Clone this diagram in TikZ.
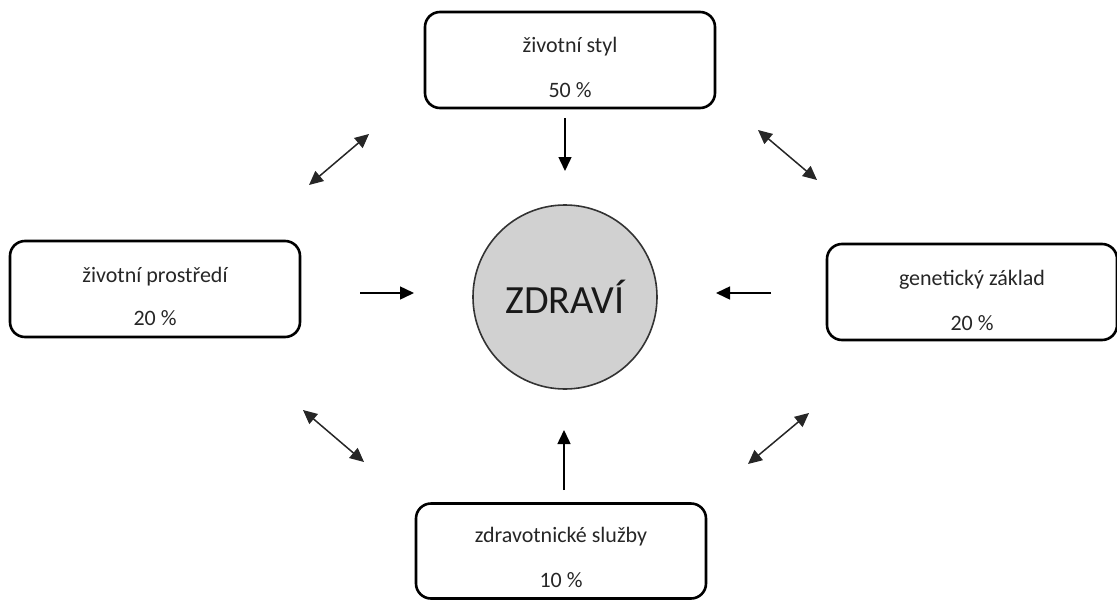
\documentclass[tikz,border=0pt]{standalone}
\usepackage{fontspec}
\setmainfont{Carlito}
\usetikzlibrary{arrows.meta}
\begin{document}
\begin{tikzpicture}[x=1pt,y=-1pt,
  box/.style={draw=black,line width=2.6pt,rounded corners=15pt,minimum width=290pt,minimum height=96pt,inner sep=0pt},
  lab/.style={anchor=base,font=\fontsize{22}{26}\selectfont,text=black!85,inner sep=0pt},
  tip/.style={Triangle[length=14pt,width=13pt]},
  arr/.style={-{Triangle[length=14pt,width=13pt]},line width=1.5pt,black},
  darr/.style={{Triangle[length=14pt,width=13pt]}-{Triangle[length=14pt,width=13pt]},line width=1.5pt,black!85}]
\useasboundingbox (0,0) rectangle (1117,600);
% boxes
\node[box] (ts) at (570,60) {};
\node[box] (tp) at (155,289) {};
\node[box] (gz) at (972,292) {};
\node[box,minimum height=95pt] (zs) at (561,551) {};
% labels
\node[lab] (ts1) at ([yshift=8pt]ts.center) {životní styl};
\node[lab] (ts2) at ([yshift=-37pt]ts.center) {50 \%};
\node[lab] (tp1) at ([yshift=7pt]tp.center) {životní prostředí};
\node[lab] (tp2) at ([yshift=-36pt]tp.center) {20 \%};
\node[lab] (gz1) at ([yshift=7pt]gz.center) {genetický základ};
\node[lab] (gz2) at ([yshift=-38pt]gz.center) {20 \%};
\node[lab] (zs1) at ([yshift=9pt]zs.center) {zdravotnické služby};
\node[lab] (zs2) at ([yshift=-36pt]zs.center) {10 \%};
% circle
\node[circle,draw=black!80,line width=1.6pt,fill=black!18,minimum size=184pt,inner sep=0pt,
  font=\fontsize{40}{48}\selectfont,text=black!90] (z) at (565,297) {ZDRAVÍ};
% straight arrows
\coordinate (a1) at (565,118); \coordinate (b1) at (565,171);
\coordinate (a2) at (360,293); \coordinate (b2) at (414,293);
\coordinate (a3) at (771,293); \coordinate (b3) at (716,293);
\coordinate (a4) at (564,490); \coordinate (b4) at (564,430);
\draw[arr] (a1) -- (b1);
\draw[arr] (a2) -- (b2);
\draw[arr] (a3) -- (b3);
\draw[arr] (a4) -- (b4);
% diagonal double arrows
\coordinate (c1) at (309,185); \coordinate (d1) at (369,134);
\coordinate (c2) at (758,130); \coordinate (d2) at (817,180);
\coordinate (c3) at (303,410); \coordinate (d3) at (364,462);
\coordinate (c4) at (748,464); \coordinate (d4) at (809,413);
\draw[darr] (c1) -- (d1);
\draw[darr] (c2) -- (d2);
\draw[darr] (c3) -- (d3);
\draw[darr] (c4) -- (d4);
\end{tikzpicture}
\end{document}
